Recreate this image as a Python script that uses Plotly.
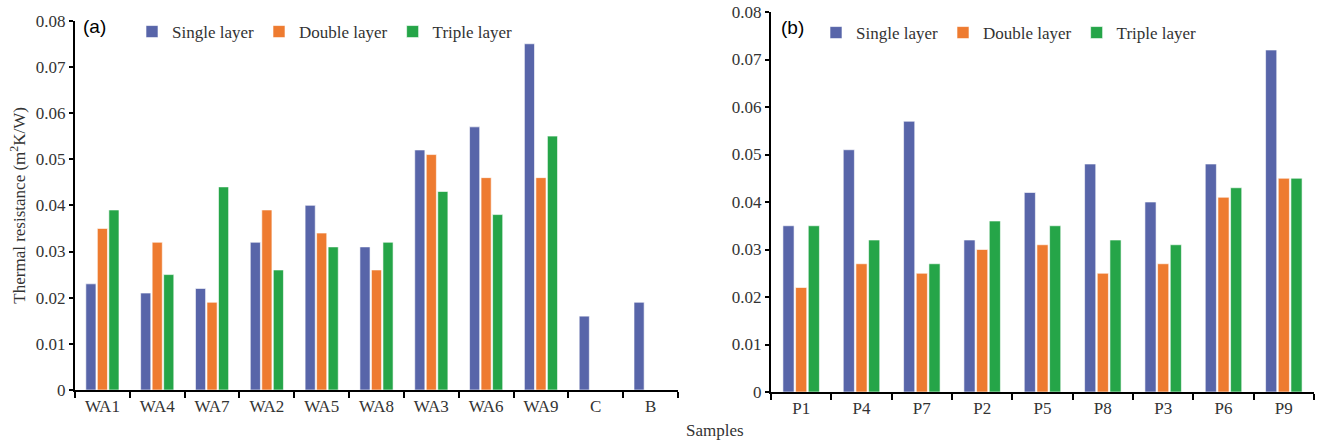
import plotly.graph_objects as go

cats_a = ["WA1", "WA4", "WA7", "WA2", "WA5", "WA8", "WA3", "WA6", "WA9", "C", "B"]
single_a = [0.023, 0.021, 0.022, 0.032, 0.040, 0.031, 0.052, 0.057, 0.075, 0.016, 0.019]
double_a = [0.035, 0.032, 0.019, 0.039, 0.034, 0.026, 0.051, 0.046, 0.046, None, None]
triple_a = [0.039, 0.025, 0.044, 0.026, 0.031, 0.032, 0.043, 0.038, 0.055, None, None]

cats_b = ["P1", "P4", "P7", "P2", "P5", "P8", "P3", "P6", "P9"]
single_b = [0.035, 0.051, 0.057, 0.032, 0.042, 0.048, 0.040, 0.048, 0.072]
double_b = [0.022, 0.027, 0.025, 0.030, 0.031, 0.025, 0.027, 0.041, 0.045]
triple_b = [0.035, 0.032, 0.027, 0.036, 0.035, 0.032, 0.031, 0.043, 0.045]

series_names = ["Single layer", "Double layer", "Triple layer"]
colors = ["#5865A9", "#EE7B30", "#25A548"]

W, H = 1321, 445
SERIF = "Liberation Serif, Times New Roman, serif"
SANS = "Liberation Sans, Arial, sans-serif"

fig = go.Figure()
for name, vals, col in zip(series_names, [single_a, double_a, triple_a], colors):
    fig.add_trace(go.Bar(x=cats_a, y=vals, name=name, marker=dict(color=col, line=dict(color="white", width=0.6)),
                         xaxis="x", yaxis="y", legend="legend"))
for name, vals, col in zip(series_names, [single_b, double_b, triple_b], colors):
    fig.add_trace(go.Bar(x=cats_b, y=vals, name=name, marker=dict(color=col, line=dict(color="white", width=0.6)),
                         xaxis="x2", yaxis="y2", legend="legend2"))

axis_common = dict(showline=True, linecolor="black", linewidth=2, ticks="outside",
                   tickcolor="black", tickwidth=2, showgrid=False, zeroline=False, automargin=False,
                   tickfont=dict(family=SERIF, size=17, color="#333333"))

fig.update_layout(
    width=W, height=H,
    margin=dict(l=0, r=0, t=0, b=0, autoexpand=False),
    plot_bgcolor="white", paper_bgcolor="white",
    barmode="group", bargap=0.37, bargroupgap=0.12,
    xaxis=dict(domain=[75 / W, 678 / W], anchor="y", tickson="boundaries", ticklen=6, **axis_common),
    yaxis=dict(domain=[1 - 390 / H, 1 - 20.7 / H], anchor="x", range=[0, 0.08], dtick=0.01,
               tickformat=".2~f", ticklen=4,
               title=dict(text="Thermal resistance (m<sup>2</sup>K/W)", font=dict(family=SERIF, size=17, color="#333333"),
                          standoff=6),
               **axis_common),
    xaxis2=dict(domain=[771 / W, 1314 / W], anchor="y2", tickson="boundaries", ticklen=6, **axis_common),
    yaxis2=dict(domain=[1 - 392 / H, 1 - 12 / H], anchor="x2", range=[0, 0.08], dtick=0.01,
                tickformat=".2~f", ticklen=4, **axis_common),
    legend=dict(orientation="h", x=132 / W, y=1 - 32 / H, xanchor="left", yanchor="middle",
                font=dict(family=SERIF, size=17, color="#333333"), bgcolor="rgba(0,0,0,0)"),
    legend2=dict(orientation="h", x=816 / W, y=1 - 33 / H, xanchor="left", yanchor="middle",
                 font=dict(family=SERIF, size=17, color="#333333"), bgcolor="rgba(0,0,0,0)"),
    annotations=[
        dict(text="(a)", x=81 / W, y=1 - 27 / H, xref="paper", yref="paper", xanchor="left", yanchor="middle",
             showarrow=False, font=dict(family=SANS, size=19, color="black")),
        dict(text="(b)", x=779 / W, y=1 - 28 / H, xref="paper", yref="paper", xanchor="left", yanchor="middle",
             showarrow=False, font=dict(family=SANS, size=19, color="black")),
        dict(text="Samples", x=715 / W, y=1 - 430 / H, xref="paper", yref="paper", xanchor="center", yanchor="middle",
             showarrow=False, font=dict(family=SERIF, size=17, color="#333333")),
    ],
)

fig.write_html("out.html")
